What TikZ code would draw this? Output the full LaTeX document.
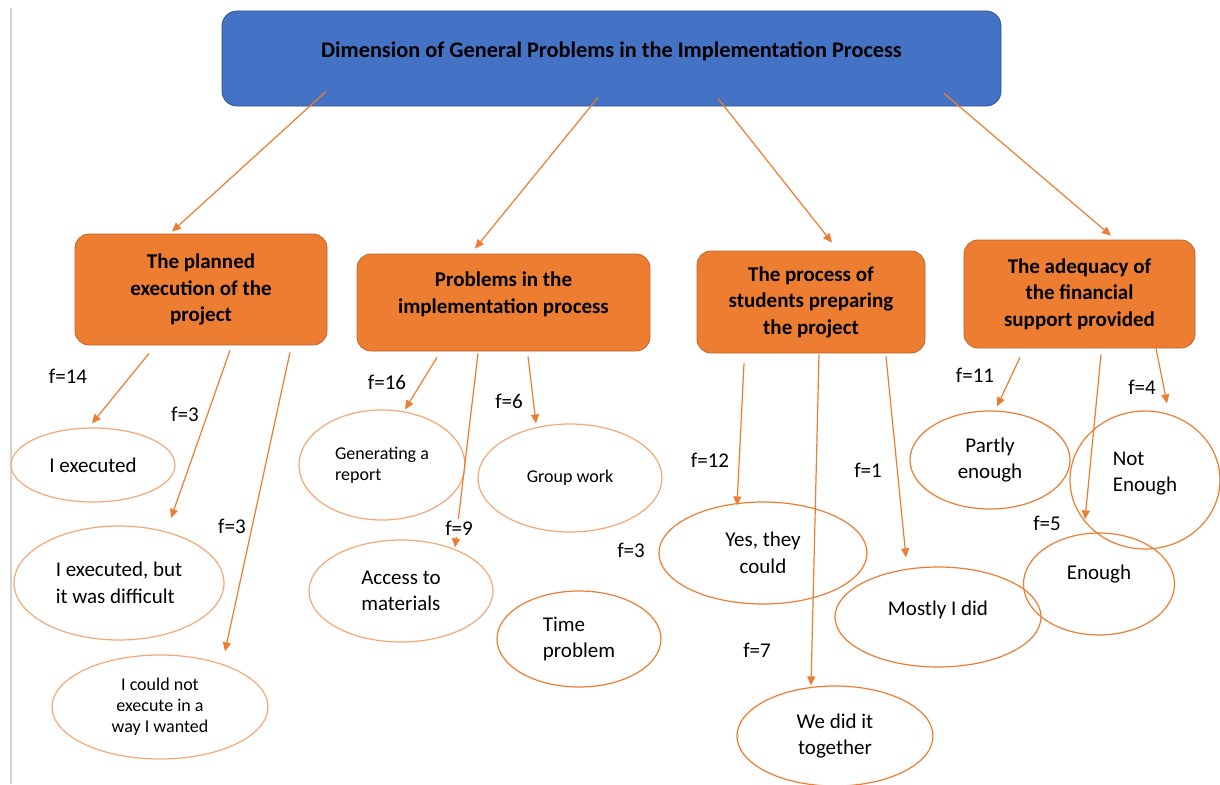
\documentclass[tikz,border=0pt]{standalone}
\usepackage{fontspec}
\setmainfont{Carlito}
\usetikzlibrary{shapes.geometric,arrows.meta}
\pgfdeclarelayer{bg}
\pgfsetlayers{bg,main}
\definecolor{blueT}{HTML}{4472C4}
\definecolor{blueB}{HTML}{2F528F}
\definecolor{orgF}{HTML}{ED7D31}
\definecolor{orgB}{HTML}{C0652A}
\definecolor{orgL}{HTML}{ED7D31}
\definecolor{orgP}{HTML}{F2A878}
\newcommand{\upby}[2]{\raisebox{#1}[\height][\depth]{#2}}
\begin{document}
\begin{tikzpicture}[x=1pt,y=-1pt,
  topbox/.style={rectangle, rounded corners=15pt, fill=blueT, draw=blueB, line width=0.8pt,
    minimum width=779pt, minimum height=95pt, inner sep=0pt, font=\bfseries\fontsize{22.3}{26}\selectfont},
  catbox/.style={rectangle, rounded corners=14pt, fill=orgF, draw=orgB, line width=0.8pt,
    align=center, inner sep=0pt, font=\bfseries\fontsize{21}{26.5}\selectfont},
  ans/.style={ellipse, draw=orgL, line width=1.2pt, inner sep=0pt, align=center,
    font=\fontsize{21}{26.5}\selectfont},
  anspale/.style={ans, draw=orgP},
  smalltxt/.style={font=\fontsize{18}{21}\selectfont},
  conn/.style={draw=orgL, line width=1.2pt, -{Triangle[length=9pt,width=8pt]}},
  flabel/.style={font=\fontsize{21}{24}\selectfont, inner sep=0pt}
]
\fill[white] (0,0) rectangle (1220,784);
\useasboundingbox (0,0) rectangle (1220,784);
\draw[black!18, line width=1.2pt] (11,8) -- (11,784);

% top box
\node[topbox] (top) at (611.5,58.5) {\upby{7pt}{Dimension of General Problems in the Implementation Process}};

% category boxes
\node[catbox, minimum width=252pt, minimum height=111pt] (b1) at (201,289.5) {The planned\\execution of the\\project};
\node[catbox, minimum width=293pt, minimum height=97pt] (b2) at (503.5,302.5)
  {\upby{8pt}{\begin{tabular}{@{}c@{}}Problems in the\\implementation process\end{tabular}}};
\node[catbox, minimum width=228pt, minimum height=102pt] (b3) at (811,302) {The process of\\students preparing\\the project};
\node[catbox, minimum width=231pt, minimum height=108pt] (b4) at (1079.5,294) {The adequacy of\\the financial\\support provided};

% answer ellipses
\node[anspale, minimum width=164pt, minimum height=74pt] (e1) at (93,465) {I executed};
\node[anspale, minimum width=210pt, minimum height=114pt, align=left] (e2) at (119,583) {I executed, but\\it was difficult};
\node[anspale, smalltxt, minimum width=216pt, minimum height=104pt] (e3) at (160,707) {I could not\\execute in a\\way I wanted};
\node[anspale, smalltxt, minimum width=166pt, minimum height=110pt, align=left] (e4) at (382,465) {Generating a\\report};
\node[anspale, smalltxt, fill=white, minimum width=184pt, minimum height=108pt] (e5) at (570,478) {Group work};
\node[anspale, minimum width=184pt, minimum height=102pt, align=left] (e6) at (401,591) {Access to\\materials};
\node[ans, minimum width=164pt, minimum height=96pt, align=left] (e7) at (579,639) {Time\\problem};
\node[ans, minimum width=208pt, minimum height=102pt] (e8) at (763,553) {Yes, they\\could};
\node[ans, minimum width=196pt, minimum height=100pt] (e9) at (835,736) {We did it\\together};
\node[ans, minimum width=206pt, minimum height=100pt] (e10) at (938,617) {\upby{7pt}{Mostly I did}};
\node[ans, minimum width=160pt, minimum height=98pt] (e11) at (990,460) {Partly\\enough};
\node[ans, minimum width=150pt, minimum height=138pt] (e12) at (1145,480)
  {\upby{7pt}{\begin{tabular}{@{}l@{}}Not\\Enough\end{tabular}}};
\node[ans, minimum width=151pt, minimum height=102pt] (e13) at (1099,584) {\upby{10pt}{Enough}};

% connectors from the top box
\draw[conn] ([shift={(-285.5,-15)}]top.south) -- ([shift={(-29,-2)}]b1.north);
\draw[conn] ([shift={(-13.5,-9)}]top.south) -- ([shift={(-28.5,-5)}]b2.north);
\draw[conn] ([shift={(106.5,-8)}]top.south) -- ([shift={(21,-8)}]b3.north);
\draw[conn] ([shift={(332.5,-13)}]top.south) -- ([shift={(31.5,-4)}]b4.north);

% connectors from box 1
\draw[conn] ([shift={(-52,8)}]b1.south) -- ([shift={(-1,-4)}]e1.north);
\draw[conn] ([shift={(29,5)}]b1.south) -- ([shift={(52,-65)}]e2.center);
\draw[conn] ([shift={(89,7)}]b1.south) -- ([shift={(65,-3)}]e3.north);

% connectors from box 2
\draw[conn] ([shift={(-66.5,6)}]b2.south) -- ([shift={(23,0)}]e4.north);
\draw[conn] ([shift={(-25.5,2)}]b2.south) -- ([shift={(54,8)}]e6.north);
\draw[conn] ([shift={(24.5,5)}]b2.south) -- ([shift={(-34,0)}]e5.north);
\begin{pgfonlayer}{bg}
\draw[conn] ([shift={(92.5,1)}]b2.south) -- ([shift={(23,-3)}]e7.north);
\end{pgfonlayer}

% connectors from box 3
\draw[conn] ([shift={(-67,10)}]b3.south) -- ([shift={(-26,4)}]e8.north);
\draw[conn] ([shift={(8,1)}]b3.south) -- ([shift={(-24,0)}]e9.north);
\draw[conn] ([shift={(75,3)}]b3.south) -- ([shift={(-32,-9)}]e10.north);

% connectors from box 4
\draw[conn] ([shift={(-59.5,9)}]b4.south) -- ([shift={(7,-4)}]e11.north);
\draw[conn] ([shift={(21.5,6)}]b4.south) -- ([shift={(-14,-13)}]e13.north);
\draw[conn] ([shift={(76.5,0)}]b4.south) -- ([shift={(22,-7)}]e12.north);

% frequency labels
\node[flabel] (f1) at (68,376) {f=14};
\node[flabel] (f2) at (185,414) {f=3};
\node[flabel] (f3) at (232,526) {f=3};
\node[flabel] (f4) at (387,382) {f=16};
\node[flabel, fill=white, inner sep=2pt] (f5) at (459,528) {f=9};
\node[flabel] (f6) at (509,401) {f=6};
\node[flabel] (f7) at (631,550) {f=3};
\node[flabel] (f8) at (710,460) {f=12};
\node[flabel] (f9) at (757,650) {f=7};
\node[flabel] (f10) at (868,470) {f=1};
\node[flabel] (f11) at (975,375) {f=11};
\node[flabel] (f12) at (1047,523) {f=5};
\node[flabel] (f13) at (1142,387) {f=4};
\end{tikzpicture}
\end{document}
